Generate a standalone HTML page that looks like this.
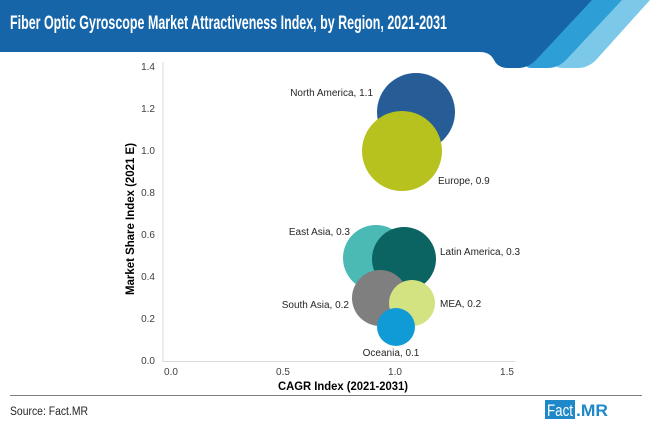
<!DOCTYPE html>
<html><head><meta charset="utf-8"><style>
body{margin:0;width:650px;height:430px;overflow:hidden;background:#fff;font-family:"Liberation Sans",sans-serif;}
</style></head><body>
<svg width="650" height="430" xmlns="http://www.w3.org/2000/svg" font-family="Liberation Sans, sans-serif">
<path d="M600,0 L650,0 L596,60 Q588,68 578,68 L562,68 Q552,68 557,58 Z" fill="#7cc8e8"/>
<path d="M570,0 L622,0 L566,60 Q558,68 548,68 L532,68 Q522,68 527,58 Z" fill="#2e9fd6"/>
<path d="M0,0 L592,0 L536,60 Q528,68 518,68 L508,68 Q498,68 494,60 Q490,52 480,52 L0,52 Z" fill="#1565a8"/>
<text x="10" y="29" fill="#fff" font-size="19.5" font-weight="bold" textLength="437" lengthAdjust="spacingAndGlyphs">Fiber Optic Gyroscope Market Attractiveness Index, by Region, 2021-2031</text>
<line x1="163" y1="62" x2="163" y2="362" stroke="#d9d9d9"/>
<line x1="163" y1="361.5" x2="515" y2="361.5" stroke="#d9d9d9"/>
<g font-size="10" fill="#404040" text-anchor="end">
<text x="155" y="364">0.0</text><text x="155" y="322">0.2</text><text x="155" y="280">0.4</text><text x="155" y="238">0.6</text><text x="155" y="196">0.8</text><text x="155" y="154">1.0</text><text x="155" y="112">1.2</text><text x="155" y="70">1.4</text>
</g>
<g font-size="10" fill="#404040" text-anchor="middle">
<text x="171" y="375">0.0</text><text x="283" y="375">0.5</text><text x="395" y="375">1.0</text><text x="507" y="375">1.5</text>
</g>
<text x="278" y="390" font-size="12" font-weight="bold" fill="#000" textLength="130" lengthAdjust="spacingAndGlyphs">CAGR Index (2021-2031)</text>
<text transform="translate(134,295) rotate(-90)" font-size="12" font-weight="bold" fill="#000" textLength="152" lengthAdjust="spacingAndGlyphs">Market Share Index (2021 E)</text>
<circle cx="416" cy="112" r="39" fill="#265d96"/>
<circle cx="402" cy="151" r="40" fill="#b8c21e"/>
<circle cx="376" cy="258" r="33" fill="#4bbab5"/>
<circle cx="404" cy="259" r="32" fill="#0b6461"/>
<circle cx="380" cy="298" r="28" fill="#7f7f7f"/>
<circle cx="412" cy="303" r="23" fill="#d3e381"/>
<circle cx="396" cy="327" r="19" fill="#109bd6"/>
<g font-size="10" fill="#262626">
<text x="373" y="96" text-anchor="end">North America, 1.1</text>
<text x="438" y="184">Europe, 0.9</text>
<text x="350" y="235" text-anchor="end">East Asia, 0.3</text>
<text x="440" y="255">Latin America, 0.3</text>
<text x="349" y="308" text-anchor="end">South Asia, 0.2</text>
<text x="440" y="307">MEA, 0.2</text>
<text x="391" y="356" text-anchor="middle">Oceania, 0.1</text>
</g>
<line x1="10" y1="395.5" x2="642" y2="395.5" stroke="#7f7f7f"/>
<text x="10" y="415" font-size="11.5" fill="#262626" textLength="78" lengthAdjust="spacingAndGlyphs">Source: Fact.MR</text>
<rect x="545" y="400" width="30" height="19" fill="#1e88c8"/>
<text x="547" y="416" font-size="17" fill="#fff" textLength="26" lengthAdjust="spacingAndGlyphs">Fact</text>
<text x="576" y="416" font-size="17" font-weight="bold" fill="#1e88c8" textLength="32" lengthAdjust="spacingAndGlyphs">.MR</text>
</svg>
</body></html>
